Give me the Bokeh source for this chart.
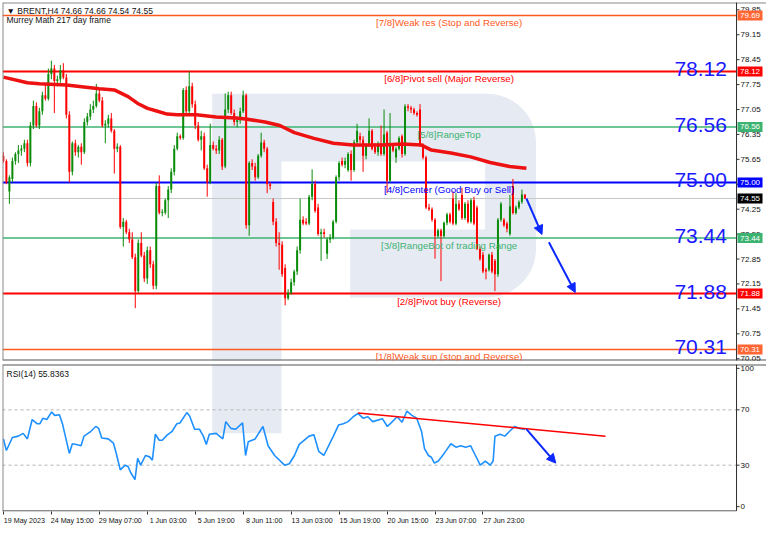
import numpy as np
from bokeh.plotting import figure
from bokeh.models import Range1d, FixedTicker, Label, Arrow, NormalHead, ColumnDataSource
from bokeh.layouts import column
from bokeh.embed import file_html
from bokeh.resources import INLINE
from bokeh.core.properties import value

# ---------------- data ----------------
opens = [
    75.75, 75.6, 74.75, 75.1, 75.6, 75.8, 75.9, 75.95, 76.1, 75.55,
    76.6, 77.15, 76.6, 77.0, 77.45, 77.35, 78.05, 78.2, 77.85, 77.9,
    78.15, 77.95, 76.9, 75.3, 76.1, 75.85, 76.0, 75.85, 76.7, 76.85,
    77.05, 77.15, 77.5, 77.3, 76.6, 76.65, 76.8, 76.45, 75.95, 76.0,
    73.75, 73.9, 73.6, 73.4, 72.9, 71.95, 73.3, 72.95, 72.3, 73.1,
    72.7, 72.1, 74.9, 74.15, 74.15, 74.5, 74.8, 75.3, 75.95, 76.3,
    76.25, 77.6, 77.0, 77.7, 77.2, 76.6, 76.2, 76.3, 75.4, 75.0,
    76.05, 75.95, 75.9, 76.2, 75.45, 77.05, 77.45, 76.95, 76.7, 76.75,
    77.0, 77.45, 73.8, 75.55, 75.45, 75.15, 75.75, 76.12, 75.95, 74.95,
    74.45, 73.9, 73.3, 73.25, 72.6, 71.75, 71.9, 72.2, 72.5, 73.1,
    73.95, 73.9, 73.85, 74.6, 74.96, 74.3, 73.55, 73.6, 73.0, 73.4,
    73.45, 73.9, 75.15, 75.6, 75.5, 75.35, 75.8, 75.35, 76.13, 76.3,
    76.2, 75.75, 76.05, 76.45, 76.0, 75.85, 76.1, 75.8, 76.4, 75.05,
    76.05, 75.7, 75.95, 76.3, 75.8, 77.14, 77.1, 77.05, 76.95, 77.05,
    76.05, 75.7, 74.3, 74.25, 73.95, 73.5, 73.65, 73.5, 73.87, 74.1,
    74.55, 73.85, 74.4, 74.65, 74.0, 74.4, 73.9, 74.5, 74.3, 73.13,
    72.97, 72.55, 72.55, 72.97, 72.8, 72.42, 73.95, 73.95, 73.85, 73.55,
    74.9, 74.14, 74.3, 74.45, 74.66,
]
highs = [
    75.85, 75.65, 75.2, 75.7, 75.85, 76.05, 76.05, 76.2, 76.2, 76.7,
    77.3, 77.25, 77.1, 77.55, 77.75, 78.2, 78.42, 78.3, 78.0, 78.3,
    78.35, 78.05, 77.0, 76.15, 76.2, 76.05, 76.1, 76.8, 76.95, 77.2,
    77.3, 77.77, 77.6, 77.4, 76.75, 76.9, 76.95, 76.5, 76.1, 76.05,
    74.0, 73.95, 73.7, 73.6, 73.0, 73.4, 73.6, 73.05, 73.2, 73.2,
    72.8, 75.0, 75.2, 74.25, 74.55, 74.9, 75.4, 76.05, 76.4, 76.35,
    77.65, 77.7, 78.12, 77.8, 77.3, 76.7, 76.45, 76.4, 75.5, 76.65,
    76.15, 76.05, 76.3, 76.25, 77.5, 77.55, 77.55, 77.05, 76.85, 77.1,
    77.58, 77.5, 75.6, 75.65, 75.55, 75.8, 76.4, 76.2, 76.0, 75.0,
    74.55, 74.0, 73.6, 73.35, 72.7, 72.0, 72.3, 72.55, 73.2, 74.55,
    74.05, 74.0, 74.65, 75.37, 75.05, 74.4, 73.7, 73.7, 73.45, 73.55,
    73.95, 75.2, 75.6, 75.7, 75.7, 75.85, 75.9, 76.2, 76.65, 76.4,
    76.3, 76.1, 76.8, 76.5, 76.1, 76.15, 76.6, 77.05, 76.45, 76.95,
    76.1, 76.0, 76.3, 76.35, 77.2, 77.2, 77.15, 77.1, 77.0, 77.2,
    76.1, 75.75, 74.4, 74.3, 74.0, 73.7, 73.7, 73.9, 74.15, 74.15,
    74.75, 74.7, 74.5, 74.85, 74.45, 74.5, 74.55, 74.6, 74.35, 73.2,
    73.05, 72.6, 73.0, 73.05, 72.85, 74.0, 74.45, 74.0, 73.9, 74.65,
    75.1, 74.35, 74.5, 74.8, 74.66,
]
lows = [
    75.55, 74.95, 74.4, 75.0, 75.5, 75.55, 75.75, 75.85, 75.45, 75.45,
    76.5, 76.55, 76.5, 76.9, 77.3, 77.3, 77.9, 76.95, 77.7, 77.8,
    77.9, 76.8, 75.0, 75.2, 75.75, 75.7, 75.5, 75.8, 76.6, 76.75,
    76.95, 77.1, 77.25, 76.55, 76.1, 76.55, 76.4, 75.25, 75.85, 73.7,
    73.2, 73.55, 73.3, 72.85, 71.47, 71.9, 72.9, 72.2, 72.15, 72.6,
    72.0, 72.0, 74.1, 74.05, 74.1, 74.0, 74.7, 75.2, 75.9, 76.2,
    76.2, 76.95, 76.9, 77.1, 76.5, 76.15, 75.9, 75.35, 74.6, 74.95,
    75.9, 75.8, 75.8, 75.35, 75.4, 76.95, 76.9, 76.6, 76.55, 76.65,
    76.95, 73.7, 73.5, 75.35, 75.05, 75.1, 75.7, 75.85, 74.7, 74.8,
    73.8, 73.2, 72.55, 72.35, 71.55, 71.7, 71.85, 72.1, 72.4, 73.0,
    73.8, 73.8, 73.8, 74.5, 74.15, 73.5, 72.8, 73.45, 72.85, 73.3,
    73.4, 73.85, 75.05, 75.45, 75.4, 75.3, 75.05, 75.3, 76.05, 76.1,
    75.3, 75.65, 76.0, 75.9, 75.8, 75.75, 75.75, 75.75, 74.7, 75.0,
    75.85, 75.55, 75.9, 75.7, 75.75, 77.0, 76.95, 76.9, 76.85, 76.0,
    75.65, 74.25, 74.2, 73.9, 72.86, 73.45, 72.23, 73.45, 73.8, 73.85,
    73.8, 73.8, 74.2, 73.95, 73.95, 73.85, 73.85, 73.8, 73.1, 72.8,
    72.45, 72.28, 72.5, 72.45, 71.95, 72.35, 73.9, 73.75, 73.6, 73.5,
    74.1, 74.1, 74.25, 74.4, 74.54,
]
closes = [
    75.6, 75.0, 75.15, 75.6, 75.8, 75.9, 75.95, 76.1, 75.55, 76.6,
    77.15, 76.6, 77.0, 77.45, 77.35, 78.05, 78.2, 77.85, 77.9, 78.15,
    77.95, 76.9, 75.3, 76.1, 75.85, 76.0, 75.85, 76.7, 76.85, 77.05,
    77.15, 77.5, 77.3, 76.6, 76.65, 76.8, 76.45, 75.95, 76.0, 73.75,
    73.9, 73.6, 73.4, 72.9, 71.95, 73.3, 72.95, 72.3, 73.1, 72.7,
    72.1, 74.9, 74.15, 74.15, 74.5, 74.8, 75.3, 75.95, 76.3, 76.25,
    77.6, 77.0, 77.7, 77.2, 76.6, 76.2, 76.3, 75.4, 75.0, 76.05,
    75.95, 75.9, 76.2, 75.45, 77.05, 77.45, 76.95, 76.7, 76.75, 77.0,
    77.45, 73.8, 75.55, 75.45, 75.15, 75.75, 76.12, 75.95, 74.95, 74.9,
    73.9, 73.3, 73.25, 72.42, 71.75, 71.9, 72.2, 72.5, 73.1, 73.95,
    73.85, 73.85, 74.6, 74.96, 74.2, 73.55, 73.6, 73.55, 73.4, 73.45,
    73.9, 75.15, 75.55, 75.5, 75.6, 75.8, 75.35, 76.13, 76.45, 76.2,
    75.75, 76.05, 76.45, 75.95, 75.85, 76.1, 75.8, 76.35, 75.05, 76.05,
    75.9, 75.95, 76.25, 75.8, 77.14, 77.1, 77.05, 76.95, 76.9, 76.05,
    75.7, 74.3, 74.25, 73.95, 73.5, 73.65, 73.5, 73.87, 74.1, 73.9,
    73.85, 74.4, 74.25, 74.0, 74.4, 73.9, 74.5, 73.85, 73.13, 72.85,
    72.5, 72.5, 72.97, 72.5, 72.42, 73.95, 74.4, 73.8, 73.7, 74.33,
    74.14, 74.3, 74.45, 74.66, 74.55,
]

ma_idx = [0, 8, 12, 21, 32, 37, 41.6, 44.8, 48.1, 51.4, 54.6, 57.9, 64.4, 71, 77.5, 80.8,
          87.3, 92.2, 97.1, 103.6, 110.1, 116.7, 126.5, 133, 139.5, 142.8, 149.3, 155.9,
          162.4, 168.9, 174.5]
ma_vals = [77.96, 77.8, 77.77, 77.74, 77.63, 77.6, 77.41, 77.22, 77.08, 77.0, 76.92, 76.9,
           76.9, 76.84, 76.81, 76.78, 76.7, 76.6, 76.4, 76.24, 76.1, 76.05, 76.05, 76.08,
           76.05, 75.91, 75.83, 75.72, 75.56, 75.45, 75.4]

rsi_idx = [0, 1, 3, 5, 6.6, 8, 9.6, 11.2, 12.2, 13.2, 14.5, 16.1, 17.1, 18.7, 19.7, 22, 23,
           24.3, 25.9, 26.9, 29.2, 30.8, 31.8, 32.8, 35, 36.7, 37.6, 39, 40.6, 41.6, 42.5,
           43.9, 44.8, 45.8, 47.4, 48.8, 49.7, 50.7, 52, 53, 54.6, 56.3, 57.9, 58.9, 61.2,
           62.1, 63.8, 65.4, 66.7, 67.7, 68.7, 71, 73.2, 74.2, 75.9, 77.5, 79.8, 80.8, 81.7,
           84, 86.6, 88.3, 90.5, 93.8, 95.4, 97.1, 98.7, 102, 103.6, 105.2, 106.9, 110.1,
           111.8, 113.4, 115, 116.7, 118.3, 120, 121.6, 123.2, 126.5, 128.1, 129.1, 131.4,
           133, 134.6, 136.3, 137.9, 139.5, 140.5, 141.8, 142.8, 143.8, 145.1, 146.1, 147.7,
           149.3, 151, 152.6, 154.2, 155.9, 157.5, 159.1, 160.8, 162.4, 163.4, 164, 165.7,
           167.3, 168.9, 170.6, 172.2, 174]
rsi_vals = [49, 40.6, 50, 51, 53, 49, 63, 60, 60, 64, 63, 68.5, 66, 66.5, 60, 38.5, 45.5,
            45, 44, 51, 54.5, 58, 56.6, 49.7, 49, 46, 39, 26.6, 30, 29, 24.5,
            19.6, 35, 30, 37, 36, 33.6, 52.4, 48, 48, 51.7, 54.5, 60, 60.5, 68,
            65.7, 56, 56, 51, 45, 52.4, 53, 49, 61.5, 56.6, 56, 60.6, 37, 47,
            49, 58, 44, 37, 30, 31, 37, 45, 51, 52, 40, 37, 51,
            59, 60, 61.5, 65, 67.5, 64, 65, 61.5, 63.5, 58, 60, 65,
            61, 69, 66, 64, 54.5, 42, 37, 35.7, 31.5, 33, 35.7, 40.5,
            45.5, 43, 44, 43, 44, 37, 30, 33, 30, 33, 51, 52.4,
            51, 54.5, 58, 56.6, 55.84]

levels = [79.69, 78.12, 76.56, 75.00, 73.44, 71.88, 70.31]
level_names = ["[7/8]Weak res (Stop and Reverse)", "[6/8]Pivot sell (Major Reverse)",
               "[5/8]RangeTop", "[4/8]Center (Good Buy or Sell)",
               "[3/8]RangeBot of trading Range", "[2/8]Pivot buy (Reverse)",
               "[1/8]Weak sup (stop and Reverse)"]
level_colors = ["#ff5a1e", "#ff0000", "#3cb371", "#0000ff", "#3cb371", "#ff0000", "#ff5a1e"]
level_widths = [1.5, 2, 1.5, 2, 1.5, 2, 1.5]
big_levels = [78.12, 76.56, 75.00, 73.44, 71.88, 70.31]
last_price = 74.55

price_ticks = [79.85, 79.15, 78.45, 77.75, 77.05, 76.35, 75.65, 74.95, 74.25, 73.55,
               72.85, 72.15, 71.45, 70.75, 70.05]
rsi_ticks = [0, 30, 70, 100]
xtick_idx = [0, 16, 32, 48, 64, 80, 96, 112, 128, 144, 160]
xtick_labels = ["19 May 2023", "24 May 15:00", "29 May 07:00", "1 Jun 03:00", "5 Jun 19:00",
                "8 Jun 11:00", "13 Jun 03:00", "15 Jun 19:00", "20 Jun 15:00",
                "23 Jun 07:00", "27 Jun 23:00"]

price_arrows = [((174.5, 74.55), (179.7, 73.54)), ((182.0, 73.32), (190.8, 71.91))]
rsi_trend = ((118.3, 67.8), (200.9, 51.0))
rsi_arrow = ((174.5, 56.0), (184.3, 31.5))

# ---------------- style ----------------
FONT = "Liberation Sans"
GREEN = "#0a8c0a"
RED = "#ff0000"
LOGO = "#e6eaf3"
ARROW = "#0a28ff"
X0, X1 = -0.3, 244.6           # chart area (bar index)
STRIP = 10.0                    # price-scale strip at the right, in bar units
XR = X1 + STRIP
Y0, Y1 = 70.0, 80.055
R0, R1 = -3.5, 102.8

o = np.array(opens); h = np.array(highs); l = np.array(lows); c = np.array(closes)
idx = np.arange(len(c))
cols = np.where(c >= o, GREEN, RED)
btop = np.maximum(o, c)
bbot = np.minimum(o, c)
btop = np.where(btop - bbot < 0.025, bbot + 0.025, btop)
src = ColumnDataSource(dict(x=idx, h=h, l=l, top=btop, bot=bbot, col=cols))


def scale_strip(fig, ticks, labels, lo, hi):
    """right-hand price scale drawn inside the frame"""
    n = len(ticks)
    fig.segment(x0=[X1] * 2, y0=[lo, hi], x1=[X1] * 2, y1=[hi, lo], line_color="#333333", line_width=1)
    fig.segment(x0=[X1] * n, y0=ticks, x1=[X1 + 1.0] * n, y1=ticks, line_color="#333333", line_width=1)
    fig.text(x=[X1 + 1.35] * n, y=ticks, text=labels, text_font=value(FONT),
             text_font_size="8px", text_baseline="middle", text_align="left", text_color="#111111")


p = figure(width=766, height=362, x_range=Range1d(X0, XR), y_range=Range1d(Y0, Y1),
           output_backend="svg", toolbar_location=None, x_axis_location=None,
           y_axis_location=None, min_border_left=2, min_border_right=0,
           min_border_top=2, min_border_bottom=2, background_fill_color="white",
           border_fill_color="white", outline_line_color=None)
p.grid.visible = False


def arc(cx, cy, rx, ry, a0, a1, n=12):
    t = np.linspace(np.radians(a0), np.radians(a1), n)
    return list(cx + rx * np.cos(t)), list(cy + ry * np.sin(t))

# logo watermark (decoration)
sx_l, sx_r, hole_r, out_r, blk_l = 69.65, 92.8, 160.7, 177.7, 115.7
y_top, y_hole_t, y_hole_b, y_bot = 77.493, 75.586, 73.679, 71.771
rx, ry = 16.3, 1.36
ax1, ay1 = arc(out_r - rx, y_top - ry, rx, ry, 90, 0)
ax2, ay2 = arc(out_r - rx, y_bot + ry, rx, ry, 0, -90)
lx = [sx_l] + ax1 + ax2 + [blk_l, blk_l, hole_r, hole_r, sx_r, sx_r, sx_l]
ly = [y_top] + ay1 + ay2 + [y_bot, y_hole_b, y_hole_b, y_hole_t, y_hole_t, Y0 - 2, Y0 - 2]
p.patch(lx, ly, fill_color=LOGO, line_color=None)

for lvl, col, w in zip(levels, level_colors, level_widths):
    p.segment(x0=[X0], y0=[lvl], x1=[X1], y1=[lvl], line_color=col, line_width=w)
p.segment(x0=[X0], y0=[last_price], x1=[X1], y1=[last_price], line_color="#c8c8c8", line_width=1)

p.segment(x0="x", y0="l", x1="x", y1="h", line_color="col", line_width=1, source=src)
p.vbar(x="x", width=0.66, top="top", bottom="bot", fill_color="col", line_color=None, source=src)
p.line(ma_idx, ma_vals, line_color="#ee1111", line_width=3.5)

for (xs, ys), (xe, ye) in price_arrows:
    p.add_layout(Arrow(end=NormalHead(size=9, fill_color=ARROW, line_color=ARROW),
                       x_start=xs, y_start=ys, x_end=xe, y_end=ye,
                       line_color=ARROW, line_width=2))

# frame borders
p.hspan(y=[Y1], line_color="#8a8a8a", line_width=2)
p.hspan(y=[Y0], line_color="#555555", line_width=2)
p.vspan(x=[X0], line_color="#8a8a8a", line_width=2)
scale_strip(p, price_ticks, [f"{t:.2f}" for t in price_ticks], Y0, Y1)

for lvl, name, col in zip(levels, level_names, level_colors):
    p.add_layout(Label(x=148.7, y=lvl, y_offset=-2, text=name, text_align="center",
                       text_baseline="top", text_font=FONT, text_font_size="9.7px",
                       text_color=col))
for lvl in big_levels:
    p.add_layout(Label(x=241.4, y=lvl, y_offset=2, text=f"{lvl:.2f}", text_align="right",
                       text_baseline="alphabetic", text_font=FONT, text_font_size="21px",
                       text_color="#1a1aff"))

box_vals = levels + [last_price]
box_cols = ["#ff6633", "#ff0000", "#3cb371", "#0000ff", "#3cb371", "#ff0000", "#ff6633", "#000000"]
bx = [X1 + 4.5] * len(box_vals)
p.rect(x=bx, y=box_vals, width=25, height=10, width_units="screen", height_units="screen",
       fill_color=box_cols, line_color=None)
p.text(x=bx, y=box_vals, text=[f"{v:.2f}" for v in box_vals], text_font=value(FONT),
       text_font_size="8px", text_baseline="middle", text_align="center", text_color="white")

p.add_layout(Label(x=X0, x_offset=4, y=Y1, y_offset=-3, text="\u25bc BRENT,H4  74.66 74.66 74.54 74.55",
                   text_baseline="top", text_font=FONT, text_font_size="8.5px", text_color="#111111"))
p.add_layout(Label(x=X0, x_offset=4, y=Y1, y_offset=-12, text="Murrey Math 217 day frame",
                   text_baseline="top", text_font=FONT, text_font_size="8.5px", text_color="#111111"))

# ---------------- RSI panel ----------------
p2 = figure(width=766, height=167, x_range=p.x_range, y_range=Range1d(R0, R1),
            output_backend="svg", toolbar_location=None, y_axis_location=None,
            min_border_left=2, min_border_right=0, min_border_top=2, min_border_bottom=18,
            background_fill_color="white", border_fill_color="white",
            outline_line_color=None)
p2.grid.visible = False
p2.quad(left=[sx_l], right=[sx_r], bottom=[53.1], top=[R1 + 5], fill_color=LOGO, line_color=None)
p2.segment(x0=[X0, X0], y0=[30, 70], x1=[X1, X1], y1=[30, 70], line_color="#b4b4b4",
           line_dash="3 3", line_width=1)
p2.line(rsi_idx, rsi_vals, line_color="#1e90ff", line_width=1.6)
p2.line([rsi_trend[0][0], rsi_trend[1][0]], [rsi_trend[0][1], rsi_trend[1][1]],
        line_color="#ff0000", line_width=1.5)
p2.add_layout(Arrow(end=NormalHead(size=9, fill_color=ARROW, line_color=ARROW),
                    x_start=rsi_arrow[0][0], y_start=rsi_arrow[0][1],
                    x_end=rsi_arrow[1][0], y_end=rsi_arrow[1][1],
                    line_color=ARROW, line_width=2))
p2.hspan(y=[R1], line_color="#555555", line_width=2)
p2.vspan(x=[X0], line_color="#8a8a8a", line_width=2)
p2.segment(x0=[X0], y0=[R0 + 0.4], x1=[X1], y1=[R0 + 0.4], line_color="#333333", line_width=1)
scale_strip(p2, rsi_ticks, [str(t) for t in rsi_ticks], R0 + 0.4, R1)

# bottom time axis: labels start at their tick, tick marks drawn as minor ticks
LBL_OFF = 7.0
lbl_pos = [i + LBL_OFF for i in xtick_idx]
axx = p2.xaxis[0]
axx.ticker = FixedTicker(ticks=lbl_pos, minor_ticks=xtick_idx)
axx.major_label_overrides = {pos: lab for pos, lab in zip(lbl_pos, xtick_labels)}
axx.major_label_text_font = FONT
axx.major_label_text_font_size = "7.1px"
axx.major_label_text_color = "#111111"
axx.major_label_standoff = 2
axx.major_tick_line_color = None
axx.major_tick_out = 0
axx.major_tick_in = 0
axx.minor_tick_out = 3
axx.minor_tick_in = 0
axx.minor_tick_line_color = "#333333"
axx.axis_line_color = None

p2.add_layout(Label(x=X0, x_offset=4, y=R1, y_offset=-4, text="RSI(14) 55.8363",
                    text_baseline="top", text_font=FONT, text_font_size="8.5px",
                    text_color="#111111"))

layout = column(p, p2, spacing=0)
open("out.html", "w").write(file_html(layout, INLINE))
